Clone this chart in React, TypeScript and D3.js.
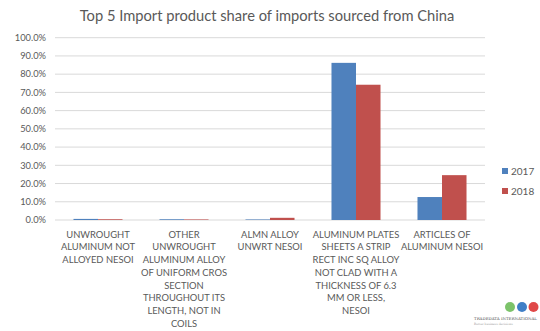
import React from "react";
import * as d3 from "d3";

const categories: string[] = [
  "UNWROUGHT\nALUMINUM NOT\nALLOYED NESOI",
  "OTHER\nUNWROUGHT\nALUMINUM ALLOY\nOF UNIFORM CROS\nSECTION\nTHROUGHOUT ITS\nLENGTH, NOT IN\nCOILS",
  "ALMN ALLOY\nUNWRT NESOI",
  "ALUMINUM PLATES\nSHEETS A STRIP\nRECT INC SQ ALLOY\nNOT CLAD WITH A\nTHICKNESS OF 6.3\nMM OR LESS,\nNESOI",
  "ARTICLES OF\nALUMINUM NESOI",
];
const seriesNames: string[] = ["2017", "2018"];
const values2017: number[] = [0.6, 0.4, 0.3, 86.2, 12.6];
const values2018: number[] = [0.4, 0.3, 1.2, 74.2, 24.6];
const yTicks: number[] = [0, 10, 20, 30, 40, 50, 60, 70, 80, 90, 100];
const title = "Top 5 Import product share of imports sourced from China";

const colors = ["#4F81BD", "#C0504D"];
const textColor = "#595959";
const font = "Lato, 'Open Sans', sans-serif";

export default function App() {
  const W = 540, H = 331;
  const left = 55, right = 485, top = 37.7, bottom = 220;
  const x = d3.scaleBand<string>().domain(categories).range([left, right]).paddingInner(0.43).paddingOuter(0.215);
  const xs = d3.scaleBand<string>().domain(seriesNames).range([0, x.bandwidth()]);
  const y = d3.scaleLinear().domain([0, 100]).range([bottom, top]);
  const series = [values2017, values2018];

  return (
    <svg width={W} height={H} style={{ position: "absolute", left: 0, top: 0, background: "#fff" }} fontFamily={font}>
      <text x={267} y={21} textAnchor="middle" fontSize={14.7} fill={textColor}>{title}</text>
      {yTicks.map((t) => (
        <g key={t}>
          <line x1={left} x2={right} y1={y(t)} y2={y(t)} stroke="#d9d9d9" strokeWidth={1} />
          <text x={46} y={y(t) + 3.3} textAnchor="end" fontSize={9.3} fill={textColor}>{d3.format(".1f")(t) + "%"}</text>
        </g>
      ))}
      {categories.map((c, i) => (
        <g key={c}>
          {series.map((s, j) => {
            const v = s[i];
            const h = Math.max(bottom - y(v), 0);
            return (
              <rect key={j} x={(x(c) as number) + (xs(seriesNames[j]) as number)} y={y(v)} width={xs.bandwidth()} height={h} fill={colors[j]} />
            );
          })}
          <text textAnchor="middle" fontSize={9.4} fill={textColor}>
            {c.split("\n").map((ln, k) => (
              <tspan key={k} x={(x(c) as number) + x.bandwidth() / 2} y={237.5 + k * 12.75}>{ln}</tspan>
            ))}
          </text>
        </g>
      ))}
      {seriesNames.map((n, j) => (
        <g key={n} transform={`translate(502, ${171 + j * 20})`}>
          <rect x={0} y={-3} width={6} height={6} fill={colors[j]} />
          <text x={9} y={3.6} fontSize={10} fill={textColor}>{n}</text>
        </g>
      ))}
      <g>
        <circle cx={510} cy={307} r={5} fill="#7cc36a" />
        <circle cx={522} cy={307} r={5} fill="#3f7fc7" />
        <circle cx={533.5} cy={307} r={5} fill="#e04848" />
        <text x={474} y={320} fontSize={3.9} textLength={63} lengthAdjust="spacingAndGlyphs" fontFamily="'DejaVu Serif', serif" fill="#555">TRADEDATA INTERNATIONAL</text>
        <text x={474} y={325} fontSize={3} fontFamily="'DejaVu Serif', serif" fill="#999">Better business decisions</text>
      </g>
    </svg>
  );
}
